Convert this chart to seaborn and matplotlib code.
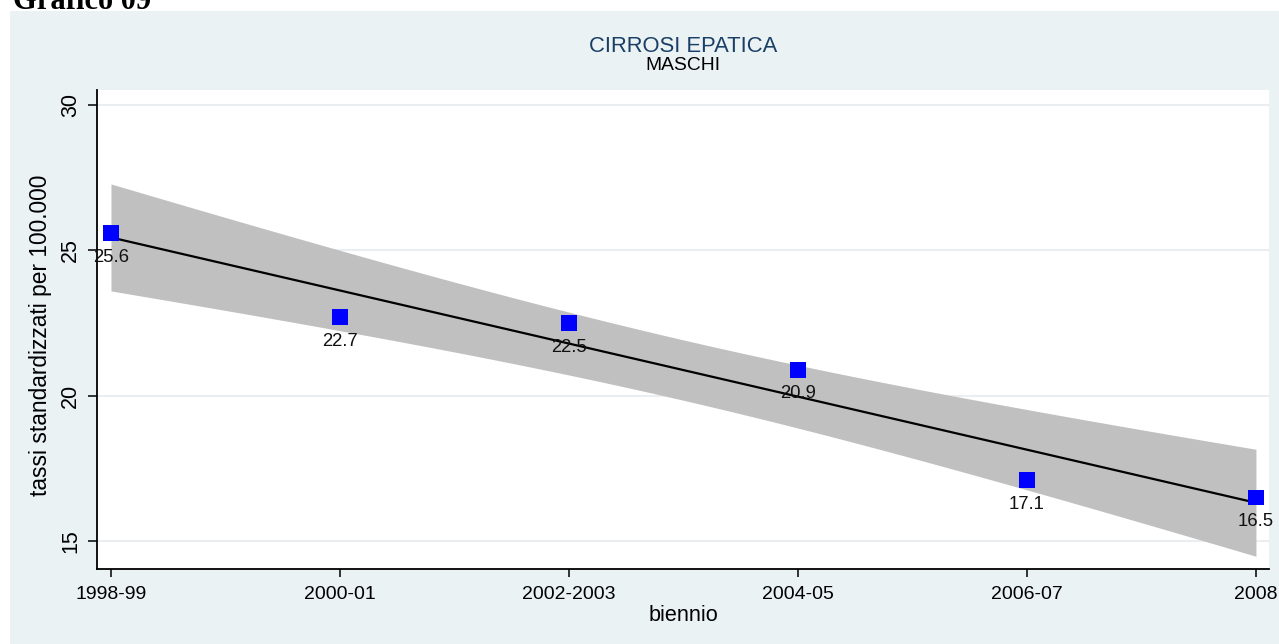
import numpy as np
import pandas as pd
import matplotlib
matplotlib.use("Agg")
import matplotlib.pyplot as plt
from matplotlib.patches import Rectangle
import seaborn as sns

# Biennial standardized rates of liver cirrhosis mortality, males
periodi = ["1998-99", "2000-01", "2002-2003", "2004-05", "2006-07", "2008"]
tassi = [25.6, 22.7, 22.5, 20.9, 17.1, 16.5]

titolo = "CIRROSI EPATICA"
sottotitolo = "MASCHI"
etichetta_x = "biennio"
etichetta_y = "tassi standardizzati per 100.000"
intestazione = "Grafico 09"

y_ticks = [15, 20, 25, 30]

sns.set_style("white")
plt.rcParams["font.family"] = ["Liberation Sans", "DejaVu Sans"]
plt.rcParams["text.color"] = "black"
plt.rcParams["axes.labelcolor"] = "black"

df = pd.DataFrame({"pos": np.arange(len(periodi)), "tasso": tassi})

# Linear fit with 95% confidence band of the mean (t, 4 df)
x = df["pos"].to_numpy(dtype=float)
y = df["tasso"].to_numpy(dtype=float)
n = len(x)
slope, intercept = np.polyfit(x, y, 1)
resid = y - (intercept + slope * x)
s = np.sqrt(np.sum(resid ** 2) / (n - 2))
sxx = np.sum((x - x.mean()) ** 2)
t975 = 2.776445
grid = np.linspace(x.min(), x.max(), 200)
fit = intercept + slope * grid
half = t975 * s * np.sqrt(1.0 / n + (grid - x.mean()) ** 2 / sxx)
fit_df = pd.DataFrame({"pos": grid, "fit": fit})

fig = plt.figure(figsize=(12.79, 6.44), dpi=100)
fig.patch.set_facecolor("white")
# Graph region background
fig.patches.append(Rectangle((10 / 1279, 0), (1279 - 10) / 1279, (644 - 11) / 644,
                             transform=fig.transFigure, facecolor="#EAF2F3",
                             edgecolor="none", zorder=-10))
fig.text(13 / 1279, 1 - 9 / 644, intestazione, family=["Liberation Serif"],
         fontweight="bold", fontsize=22, ha="left", va="baseline")

ax = fig.add_axes([97 / 1279, 1 - 569 / 644, (1269 - 97) / 1279, (569 - 90) / 644])
ax.set_facecolor("white")

ax.fill_between(grid, fit - half, fit + half, color="#C0C0C0", lw=0, zorder=1)
sns.lineplot(data=fit_df, x="pos", y="fit", color="black", lw=1.6, ax=ax, zorder=2)
sns.scatterplot(data=df, x="pos", y="tasso", marker="s", s=130, color="#0000FF",
                edgecolor="none", ax=ax, zorder=3, clip_on=False)

for xi, v in zip(df["pos"], df["tasso"]):
    ax.annotate(f"{v:.1f}", (xi, v), xytext=(0, -17.5), textcoords="offset points",
                ha="center", va="center", fontsize=13.3, color="#111111",
                annotation_clip=False, zorder=4)

ax.set_xlim(-0.061, 5.057)
ax.set_ylim(14.04, 30.52)
ax.set_xticks(df["pos"])
ax.set_xticklabels(periodi)
ax.set_yticks(y_ticks)
ax.set_yticklabels([str(v) for v in y_ticks])

ax.yaxis.grid(True, color="#EAEEF0", lw=1.5)
ax.xaxis.grid(False)
ax.set_axisbelow(True)

for side in ["top", "right"]:
    ax.spines[side].set_visible(False)
for side in ["left", "bottom"]:
    ax.spines[side].set_color("black")
    ax.spines[side].set_linewidth(1.3)

ax.tick_params(axis="x", direction="out", length=6, width=1.1, color="black",
               labelcolor="black", labelsize=14, pad=6, bottom=True)
ax.tick_params(axis="y", direction="out", length=6.5, width=1.1, color="black",
               labelcolor="black", labelsize=15.5, pad=5, left=True, labelrotation=90)
for lab in ax.get_yticklabels():
    lab.set_va("center")
    lab.set_ha("right")

ax.set_xlabel(etichetta_x, fontsize=15.6, labelpad=2)
ax.set_ylabel(etichetta_y, fontsize=16.4, labelpad=6)
ax.yaxis.label.set_y(0.488)

cx = (ax.get_position().x0 + ax.get_position().x1) / 2
fig.text(cx, 1 - 47 / 644, titolo, ha="center", va="center", fontsize=15.8,
         color="#1A3F66")
fig.text(cx, 1 - 66 / 644, sottotitolo, ha="center", va="center", fontsize=13.9,
         color="black")

fig.savefig("out.png", dpi=100)
